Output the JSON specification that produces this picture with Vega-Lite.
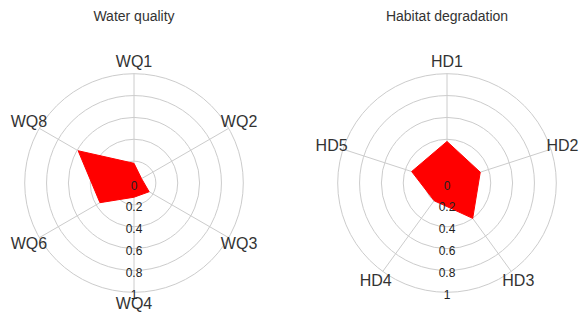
{
  "$schema": "https://vega.github.io/schema/vega-lite/v6.json",
  "padding": {"top": 10, "left": 0, "right": 0, "bottom": 0},
  "autosize": {"type": "pad"},
  "spacing": 45,
  "bounds": "flush",
  "config": {
    "view": {"stroke": null},
    "font": "Liberation Sans",
    "title": {"fontSize": 14, "fontWeight": "normal", "color": "#333333", "offset": 25, "font": "Liberation Sans"}
  },
  "datasets": {
    "axes": [
      {"panel": "Water quality", "axis": "WQ1", "idx": 0, "value": 0.18},
      {"panel": "Water quality", "axis": "WQ2", "idx": 1, "value": 0.08},
      {"panel": "Water quality", "axis": "WQ3", "idx": 2, "value": 0.16},
      {"panel": "Water quality", "axis": "WQ4", "idx": 3, "value": 0.13},
      {"panel": "Water quality", "axis": "WQ6", "idx": 4, "value": 0.36},
      {"panel": "Water quality", "axis": "WQ8", "idx": 5, "value": 0.59},
      {"panel": "Habitat degradation", "axis": "HD1", "idx": 0, "value": 0.38},
      {"panel": "Habitat degradation", "axis": "HD2", "idx": 1, "value": 0.32},
      {"panel": "Habitat degradation", "axis": "HD3", "idx": 2, "value": 0.40},
      {"panel": "Habitat degradation", "axis": "HD4", "idx": 3, "value": 0.20},
      {"panel": "Habitat degradation", "axis": "HD5", "idx": 4, "value": 0.34}
    ],
    "rings": [
      {"r": 0}, {"r": 0.2}, {"r": 0.4}, {"r": 0.6}, {"r": 0.8}, {"r": 1}
    ]
  },
  "hconcat": [
    {
      "title": "Water quality",
      "width": 268,
      "height": 268,
      "layer": [
        {
          "data": {"name": "rings"},
          "mark": {"type": "point", "shape": "circle", "filled": false, "stroke": "#cccccc", "strokeWidth": 1, "opacity": 1},
          "encoding": {
            "x": {"datum": 0, "type": "quantitative", "scale": {"domain": [-1.226, 1.226], "nice": false, "zero": false}, "axis": null},
            "y": {"datum": 0, "type": "quantitative", "scale": {"domain": [-1.226, 1.226], "nice": false, "zero": false}, "axis": null},
            "size": {"field": "r", "type": "quantitative", "scale": {"type": "pow", "exponent": 2, "domain": [0, 1], "range": [0, 47786]}, "legend": null}
          }
        },
        {
          "data": {"name": "axes"},
          "transform": [
            {"filter": "datum.panel == 'Water quality'"},
            {"joinaggregate": [{"op": "count", "as": "n"}]},
            {"calculate": "2 * PI * datum.idx / datum.n", "as": "a"},
            {"calculate": "sin(datum.a)", "as": "sx"},
            {"calculate": "cos(datum.a)", "as": "sy"},
            {"calculate": "datum.value * datum.sx", "as": "vx"},
            {"calculate": "datum.value * datum.sy", "as": "vy"},
            {"calculate": "1.11 * datum.sx", "as": "lx"},
            {"calculate": "1.11 * datum.sy", "as": "ly"}
          ],
          "layer": [
            {
              "mark": {"type": "rule", "stroke": "#cccccc", "strokeWidth": 1},
              "encoding": {
                "x": {"field": "sx", "type": "quantitative"},
                "y": {"field": "sy", "type": "quantitative"},
                "x2": {"datum": 0},
                "y2": {"datum": 0}
              }
            },
            {
              "mark": {"type": "line", "interpolate": "linear-closed", "fill": "#ff0000", "stroke": "#ff0000", "strokeWidth": 1, "opacity": 1},
              "encoding": {
                "x": {"field": "vx", "type": "quantitative"},
                "y": {"field": "vy", "type": "quantitative"},
                "order": {"field": "idx", "type": "quantitative"}
              }
            },
            {
              "mark": {"type": "text", "fontSize": 16, "color": "#333333", "align": "center", "baseline": "middle"},
              "encoding": {
                "x": {"field": "lx", "type": "quantitative"},
                "y": {"field": "ly", "type": "quantitative"},
                "text": {"field": "axis"}
              }
            }
          ]
        },
        {
          "data": {"name": "rings"},
          "transform": [{"calculate": "-datum.r", "as": "ny"}],
          "mark": {"type": "text", "fontSize": 12, "color": "#222222", "align": "center", "baseline": "middle", "dy": 2.5},
          "encoding": {
            "x": {"datum": 0, "type": "quantitative"},
            "y": {"field": "ny", "type": "quantitative"},
            "text": {"field": "r", "type": "quantitative", "format": "~g"}
          }
        }
      ]
    },
    {
      "title": "Habitat degradation",
      "width": 268,
      "height": 268,
      "layer": [
        {
          "data": {"name": "rings"},
          "mark": {"type": "point", "shape": "circle", "filled": false, "stroke": "#cccccc", "strokeWidth": 1, "opacity": 1},
          "encoding": {
            "x": {"datum": 0, "type": "quantitative", "scale": {"domain": [-1.226, 1.226], "nice": false, "zero": false}, "axis": null},
            "y": {"datum": 0, "type": "quantitative", "scale": {"domain": [-1.226, 1.226], "nice": false, "zero": false}, "axis": null},
            "size": {"field": "r", "type": "quantitative", "scale": {"type": "pow", "exponent": 2, "domain": [0, 1], "range": [0, 47786]}, "legend": null}
          }
        },
        {
          "data": {"name": "axes"},
          "transform": [
            {"filter": "datum.panel == 'Habitat degradation'"},
            {"joinaggregate": [{"op": "count", "as": "n"}]},
            {"calculate": "2 * PI * datum.idx / datum.n", "as": "a"},
            {"calculate": "sin(datum.a)", "as": "sx"},
            {"calculate": "cos(datum.a)", "as": "sy"},
            {"calculate": "datum.value * datum.sx", "as": "vx"},
            {"calculate": "datum.value * datum.sy", "as": "vy"},
            {"calculate": "1.11 * datum.sx", "as": "lx"},
            {"calculate": "1.11 * datum.sy", "as": "ly"}
          ],
          "layer": [
            {
              "mark": {"type": "rule", "stroke": "#cccccc", "strokeWidth": 1},
              "encoding": {
                "x": {"field": "sx", "type": "quantitative"},
                "y": {"field": "sy", "type": "quantitative"},
                "x2": {"datum": 0},
                "y2": {"datum": 0}
              }
            },
            {
              "mark": {"type": "line", "interpolate": "linear-closed", "fill": "#ff0000", "stroke": "#ff0000", "strokeWidth": 1, "opacity": 1},
              "encoding": {
                "x": {"field": "vx", "type": "quantitative"},
                "y": {"field": "vy", "type": "quantitative"},
                "order": {"field": "idx", "type": "quantitative"}
              }
            },
            {
              "mark": {"type": "text", "fontSize": 16, "color": "#333333", "align": "center", "baseline": "middle"},
              "encoding": {
                "x": {"field": "lx", "type": "quantitative"},
                "y": {"field": "ly", "type": "quantitative"},
                "text": {"field": "axis"}
              }
            }
          ]
        },
        {
          "data": {"name": "rings"},
          "transform": [{"calculate": "-datum.r", "as": "ny"}],
          "mark": {"type": "text", "fontSize": 12, "color": "#222222", "align": "center", "baseline": "middle", "dy": 2.5},
          "encoding": {
            "x": {"datum": 0, "type": "quantitative"},
            "y": {"field": "ny", "type": "quantitative"},
            "text": {"field": "r", "type": "quantitative", "format": "~g"}
          }
        }
      ]
    }
  ]
}
